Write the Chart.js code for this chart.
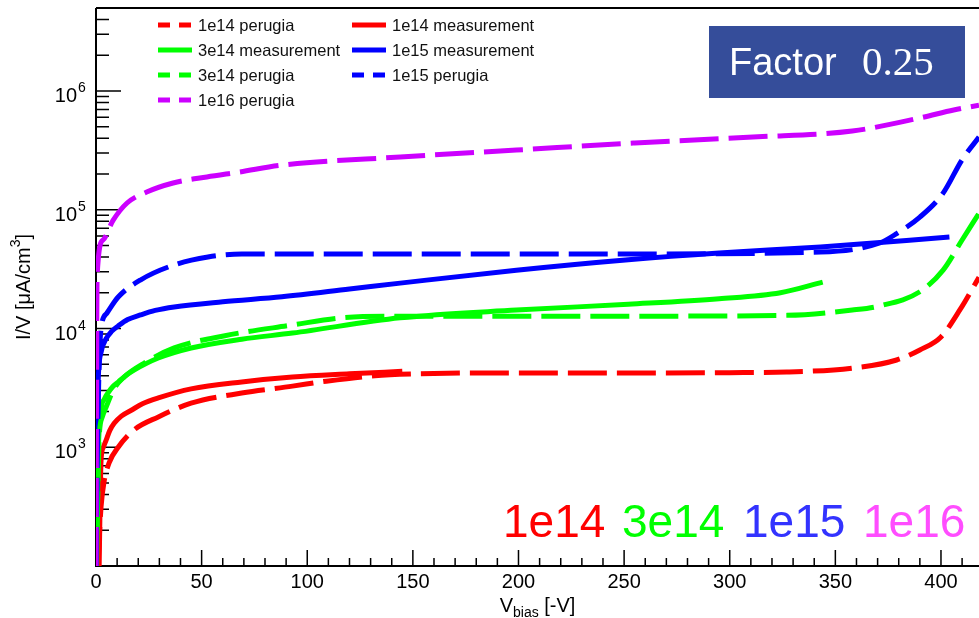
<!DOCTYPE html>
<html>
<head>
<meta charset="utf-8">
<script src="https://cdn.jsdelivr.net/npm/chart.js@4.4.1/dist/chart.umd.min.js"></script>
<style>
  html, body { margin: 0; padding: 0; background: #fff; }
  #wrap { position: relative; width: 979px; height: 618px; }
</style>
</head>
<body>
<div id="wrap"><canvas id="ivChart"></canvas></div>
<script>
// V_bias [-V] and I/V [uA/cm^3]
const v1e14Perugia = [1.0, 1.5, 2.4, 3.8, 6.2, 10.5, 18, 29.5, 45, 69, 93, 109, 132, 151, 183, 250, 300, 327, 358, 379, 390, 400, 409, 418];
const i1e14Perugia = [100, 165, 316, 510, 740, 1000, 1400, 1800, 2350, 2860, 3270, 3600, 4000, 4140, 4220, 4220, 4250, 4300, 4640, 5430, 6600, 8500, 14400, 27000];

const v1e14Meas = [1.5, 2.0, 2.4, 3.5, 4.8, 6.5, 8.6, 12, 16.7, 22, 29.5, 45, 69, 93, 120, 145];
const i1e14Meas = [100, 400, 780, 1000, 1150, 1380, 1590, 1830, 2050, 2320, 2600, 3100, 3550, 3900, 4150, 4360];

const v3e14Meas = [0.3, 1.0, 2.4, 4.0, 5.7, 8, 10.5, 14, 18, 29.5, 45, 69, 93, 144, 199, 252, 295, 324, 344];
const i3e14Meas = [100, 800, 2050, 2550, 2870, 3250, 3540, 4000, 4460, 5640, 6850, 8130, 9150, 12300, 14300, 16000, 17800, 20000, 24600];

const v1e15Meas = [0, 0.5, 1, 2.4, 4.8, 7.5, 10.5, 15, 21, 28, 37, 60, 88, 120, 144, 199, 252, 295, 343, 404];
const i1e15Meas = [100, 1000, 3460, 6300, 8200, 9500, 10500, 11900, 13000, 14200, 15200, 16800, 18500, 21500, 24100, 31000, 38000, 43300, 48600, 59000];

const v3e14Perugia = [0.5, 1.5, 3.0, 4.8, 8.5, 13.3, 23, 37, 61, 93, 116, 139, 183, 250, 327, 358, 371, 390, 401, 410, 418];
const i3e14Perugia = [200, 1200, 1800, 2180, 3100, 3900, 5130, 6860, 8700, 10700, 12300, 12700, 12700, 12700, 12900, 14300, 15500, 20400, 31000, 55600, 93500];

const v1e15Perugia = [0, 0.7, 1.5, 2.4, 5.2, 10.5, 21, 37, 53, 69, 90, 250, 343, 371, 379, 390, 401, 410, 418];
const i1e15Perugia = [100, 1000, 5000, 10000, 13500, 18400, 25600, 34300, 40000, 42400, 42400, 42400, 44000, 52500, 63000, 86700, 138000, 264000, 409000];

const v1e16Perugia = [0, 0.3, 0.5, 3.3, 8, 14.7, 24, 36.5, 52.5, 68, 88.5, 144, 199, 255, 311, 358, 390, 406, 418];
const i1e16Perugia = [100, 5000, 27000, 55600, 81000, 114000, 141000, 168000, 189000, 208000, 238000, 278000, 318000, 365000, 410000, 460000, 593000, 692000, 760000];

const xTicks = [0, 50, 100, 150, 200, 250, 300, 350, 400];
const yDecades = [3, 4, 5, 6];
const fluenceTags = ['1e14', '3e14', '1e15', '1e16'];
const fluenceColors = ['#ff0000', '#00ff00', '#3333ff', '#ff4dff'];

const FONT = '"Liberation Sans", Arial, Helvetica, sans-serif';

function pts(xs, ys) { return xs.map((x, i) => ({ x: x, y: ys[i] })); }

function line(label, xs, ys, color, dashed, order) {
  return {
    label: label,
    data: pts(xs, ys),
    borderColor: color,
    backgroundColor: color,
    borderWidth: 5,
    borderDash: dashed ? [39, 10] : [],
    borderJoinStyle: 'round',
    cubicInterpolationMode: 'monotone',
    pointRadius: 0,
    fill: false,
    order: order
  };
}

// ROOT draw order: later entries end up on top
const datasets = [
  line('1e14 perugia', v1e14Perugia, i1e14Perugia, '#ff0000', true, 6),
  line('1e14 measurement', v1e14Meas, i1e14Meas, '#ff0000', false, 5),
  line('3e14 measurement', v3e14Meas, i3e14Meas, '#00ff00', false, 4),
  line('1e15 measurement', v1e15Meas, i1e15Meas, '#0000ff', false, 3),
  line('3e14 perugia', v3e14Perugia, i3e14Perugia, '#00ff00', true, 2),
  line('1e15 perugia', v1e15Perugia, i1e15Perugia, '#0000ff', true, 1),
  line('1e16 perugia', v1e16Perugia, i1e16Perugia, '#cc00ff', true, 0)
];

const rootFrame = {
  id: 'rootFrame',
  beforeDatasetsDraw(chart) {
    const ctx = chart.ctx, a = chart.chartArea;
    const xs = chart.scales.x, ys = chart.scales.y;
    ctx.save();
    ctx.strokeStyle = '#000';
    ctx.lineWidth = 2;
    ctx.beginPath();
    ctx.moveTo(a.left, a.top); ctx.lineTo(a.left, a.bottom); ctx.lineTo(a.right, a.bottom);
    ctx.moveTo(a.left, a.top); ctx.lineTo(a.right, a.top);
    ctx.stroke();

    // x ticks, inward
    ctx.lineWidth = 1.5;
    ctx.beginPath();
    for (let v = 0; v <= xs.max; v += 10) {
      const px = xs.getPixelForValue(v);
      const len = v % 50 === 0 ? 16 : 8;
      ctx.moveTo(px, a.bottom); ctx.lineTo(px, a.bottom - len);
    }
    // y ticks, inward
    for (let e = 2; e <= 6; e++) {
      for (let m = 1; m <= 9; m++) {
        const v = m * Math.pow(10, e);
        if (v < ys.min || v > ys.max) continue;
        const py = ys.getPixelForValue(v);
        ctx.moveTo(a.left, py); ctx.lineTo(a.left + (m === 1 ? 25 : 13), py);
      }
    }
    ctx.stroke();

    ctx.fillStyle = '#000';
    ctx.font = '20px ' + FONT;
    ctx.textAlign = 'center';
    ctx.textBaseline = 'alphabetic';
    xTicks.forEach(v => ctx.fillText(String(v), xs.getPixelForValue(v), 588));

    yDecades.forEach(e => {
      const py = ys.getPixelForValue(Math.pow(10, e));
      ctx.font = '20px ' + FONT;
      ctx.textAlign = 'right';
      ctx.fillText('10', 77, py + 11);
      ctx.font = '14px ' + FONT;
      ctx.textAlign = 'left';
      ctx.fillText(String(e), 78, py + 1);
    });

    // x title
    ctx.font = '20px ' + FONT;
    const t1 = 'V', t2 = 'bias', t3 = ' [-V]';
    const w1 = ctx.measureText(t1).width, w3 = ctx.measureText(t3).width;
    ctx.font = '14px ' + FONT;
    const w2 = ctx.measureText(t2).width;
    let x0 = (a.left + a.right) / 2 - (w1 + w2 + w3) / 2;
    ctx.textAlign = 'left';
    ctx.font = '20px ' + FONT;
    ctx.fillText(t1, x0, 612);
    ctx.font = '14px ' + FONT;
    ctx.fillText(t2, x0 + w1, 617);
    ctx.font = '20px ' + FONT;
    ctx.fillText(t3, x0 + w1 + w2, 612);

    // y title, rotated
    ctx.save();
    ctx.translate(30, (a.top + a.bottom) / 2);
    ctx.rotate(-Math.PI / 2);
    const s1 = 'I/V [\u03bcA/cm', s2 = '3', s3 = ']';
    ctx.font = '20px ' + FONT;
    const u1 = ctx.measureText(s1).width, u3 = ctx.measureText(s3).width;
    ctx.font = '14px ' + FONT;
    const u2 = ctx.measureText(s2).width;
    let y0 = -(u1 + u2 + u3) / 2;
    ctx.font = '20px ' + FONT;
    ctx.fillText(s1, y0, 0);
    ctx.font = '14px ' + FONT;
    ctx.fillText(s2, y0 + u1, -10);
    ctx.font = '20px ' + FONT;
    ctx.fillText(s3, y0 + u1 + u2, 0);
    ctx.restore();
    ctx.restore();
  },
  afterDatasetsDraw(chart) {
    const ctx = chart.ctx;
    ctx.save();
    // legend, two columns
    const sampleX = [158, 352], textX = [198, 392];
    chart.data.datasets.forEach((ds, i) => {
      const col = i % 2, row = Math.floor(i / 2);
      const y = 25 + 25 * row;
      ctx.strokeStyle = ds.borderColor;
      ctx.lineWidth = 5;
      ctx.lineCap = 'butt';
      ctx.setLineDash(ds.borderDash.length ? [12, 9] : []);
      ctx.beginPath();
      ctx.moveTo(sampleX[col], y); ctx.lineTo(sampleX[col] + 34, y);
      ctx.stroke();
      ctx.setLineDash([]);
      ctx.fillStyle = '#111';
      ctx.font = '16.5px ' + FONT;
      ctx.textAlign = 'left';
      ctx.textBaseline = 'middle';
      ctx.fillText(ds.label, textX[col], y + 1);
    });

    // Factor box
    ctx.fillStyle = '#354d9a';
    ctx.fillRect(709, 26, 256, 72);
    ctx.fillStyle = '#fff';
    ctx.textBaseline = 'alphabetic';
    ctx.font = '38px ' + FONT;
    ctx.fillText('Factor', 729, 75);
    ctx.font = '41px "Liberation Serif", "DejaVu Serif", serif';
    ctx.fillText('0.25', 862, 75);

    // fluence tags
    ctx.font = '46px ' + FONT;
    const tagX = [503, 622, 743, 863];
    fluenceTags.forEach((t, i) => {
      ctx.fillStyle = fluenceColors[i];
      ctx.fillText(t, tagX[i], 537);
    });
    ctx.restore();
  }
};

new Chart(document.getElementById('ivChart'), {
  type: 'line',
  data: { datasets: datasets },
  options: {
    responsive: true,
    maintainAspectRatio: false,
    animation: false,
    layout: { padding: { left: 96, right: 0, top: 8, bottom: 52 } },
    plugins: { legend: { display: false }, tooltip: { enabled: false } },
    scales: {
      x: { type: 'linear', min: 0, max: 418, display: false },
      y: { type: 'logarithmic', min: 100, max: 5e6, display: false }
    }
  },
  plugins: [rootFrame]
});
</script>
</body>
</html>
